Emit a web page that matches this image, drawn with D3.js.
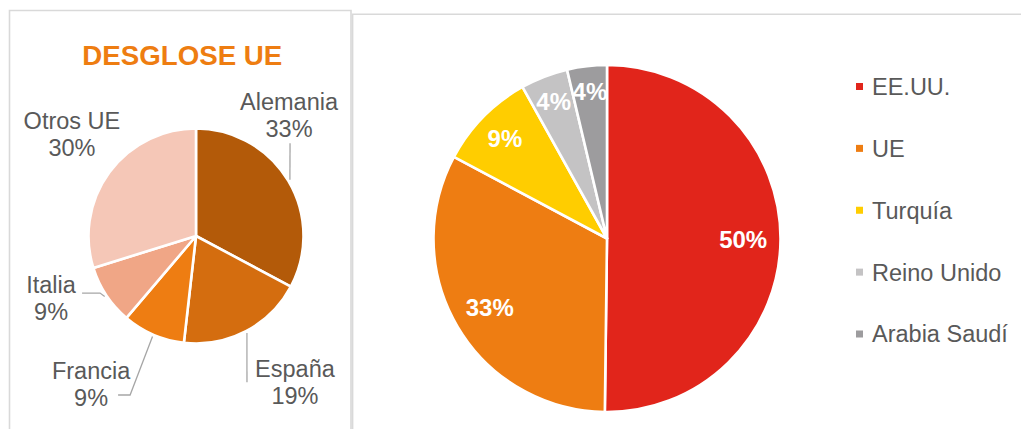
<!DOCTYPE html>
<html><head><meta charset="utf-8">
<script src="https://cdn.jsdelivr.net/npm/d3@7"></script>
<style>body{margin:0;background:#fff}svg{display:block}</style>
</head><body>
<svg id="c" width="1021" height="429"></svg>
<script>
// ---- data ----
const euTitle = "DESGLOSE UE";
const euCategories = ["Alemania", "España", "Francia", "Italia", "Otros UE"];
const euValues = [32.8, 19.0, 9.4, 9.0, 29.8];
const euColors = ["#b35a09", "#d46d0f", "#ee7d12", "#f0a686", "#f5c7b7"];

const mainCategories = ["EE.UU.", "UE", "Turquía", "Reino Unido", "Arabia Saudí"];
const mainValues = [50.2, 32.6, 9.1, 4.4, 3.7];
const mainColors = ["#e1251b", "#ee7d12", "#ffcd00", "#c4c3c4", "#9d9c9e"];

// ---- layout (label placement for the outside labels of the EU pie) ----
const euLabelPolar = [[37.6, 152.5], [145.9, 176.5], [215.4, 181.1], [246.8, 157.7], [309.5, 160.8]];
const euLeaderEnd = [[1, 28, 0], [-48, 0, 0], [27, 11.4, 12], [31, -5.1, 18], null];

const FONT = "'Liberation Sans', Arial, Helvetica, sans-serif";
const GREY = "#595959";
const svg = d3.select("#c").style("font-family", FONT);

// panel borders
svg.append("path").attr("d", "M9.5,440V10.5H351V440")
  .attr("fill", "none").attr("stroke", "#d9d9d9").attr("stroke-width", 1.6);
svg.append("path").attr("d", "M352.6,440V14.2H1040")
  .attr("fill", "none").attr("stroke", "#d9d9d9").attr("stroke-width", 1.6);

const pie = d3.pie().sort(null).value(d => d);
const fmt = v => Math.round(v) + "%";
const rad = a => a * Math.PI / 180;

// ---- left: EU breakdown ----
{
  const cx = 196, cy = 236, r = 107.5;
  const g = svg.append("g").attr("transform", `translate(${cx},${cy})`);
  const arcs = pie(euValues);
  const arc = d3.arc().innerRadius(0).outerRadius(r);
  const color = d3.scaleOrdinal().domain(euCategories).range(euColors);

  g.selectAll("path.s").data(arcs).join("path").attr("class", "s")
    .attr("d", arc).attr("fill", (d, i) => color(euCategories[i]))
    .attr("stroke", "#fff").attr("stroke-width", 2.6).attr("stroke-linejoin", "round");

  svg.append("text").attr("x", 182.3).attr("y", 65).attr("text-anchor", "middle")
    .attr("font-size", 27.7).attr("font-weight", "bold").attr("fill", "#ee7d11").text(euTitle);

  arcs.forEach((d, i) => {
    const [ang, rho] = euLabelPolar[i];
    const lx = rho * Math.sin(rad(ang)), ly = -rho * Math.cos(rad(ang));
    const t = g.append("text").attr("text-anchor", "middle").attr("font-size", 23.5).attr("fill", GREY);
    t.append("tspan").attr("x", lx).attr("y", ly - 5.1).text(euCategories[i]);
    t.append("tspan").attr("x", lx).attr("y", ly + 21.9).text(fmt(euValues[i]));
    const le = euLeaderEnd[i];
    if (le) {
      const mid = (d.startAngle + d.endAngle) / 2;
      const ax = (r + 2) * Math.sin(mid), ay = -(r + 2) * Math.cos(mid);
      const ex = lx + le[0], ey = ly + le[1];
      const pts = [[ax, ay], [ex + le[2], ey], [ex, ey]];
      g.append("path").attr("d", d3.line()(pts)).attr("fill", "none")
        .attr("stroke", "#a6a6a6").attr("stroke-width", 1.3);
    }
  });
}

// ---- right: main pie ----
{
  const cx = 607, cy = 238.5, r = 173.5;
  const g = svg.append("g").attr("transform", `translate(${cx},${cy})`);
  const arcs = pie(mainValues);
  const arc = d3.arc().innerRadius(0).outerRadius(r);
  const color = d3.scaleOrdinal().domain(mainCategories).range(mainColors);
  const total = d3.sum(mainValues);

  g.selectAll("path.s").data(arcs).join("path").attr("class", "s")
    .attr("d", arc).attr("fill", (d, i) => color(mainCategories[i]))
    .attr("stroke", "#fff").attr("stroke-width", 2.6).attr("stroke-linejoin", "round");

  g.selectAll("text.v").data(arcs).join("text").attr("class", "v")
    .each(function (d, i) {
      const pct = d.value / total * 100;
      const rho = r * Math.max(0.785, 0.87 - 0.005 * pct);
      const mid = (d.startAngle + d.endAngle) / 2;
      d3.select(this).attr("x", rho * Math.sin(mid)).attr("y", -rho * Math.cos(mid) + 8.6);
    })
    .attr("text-anchor", "middle").attr("font-size", 24).attr("font-weight", "bold")
    .attr("fill", "#fff").text(d => fmt(d.value));

  // legend
  const y = d3.scalePoint().domain(mainCategories).range([86.5, 334]);
  const lg = svg.append("g");
  mainCategories.forEach((c, i) => {
    lg.append("rect").attr("x", 856).attr("y", y(c) - 3.5).attr("width", 7).attr("height", 7)
      .attr("fill", color(c));
    lg.append("text").attr("x", 872).attr("y", y(c) + 8.4).attr("font-size", 23.5)
      .attr("fill", GREY).text(c);
  });
}
</script>
</body></html>
